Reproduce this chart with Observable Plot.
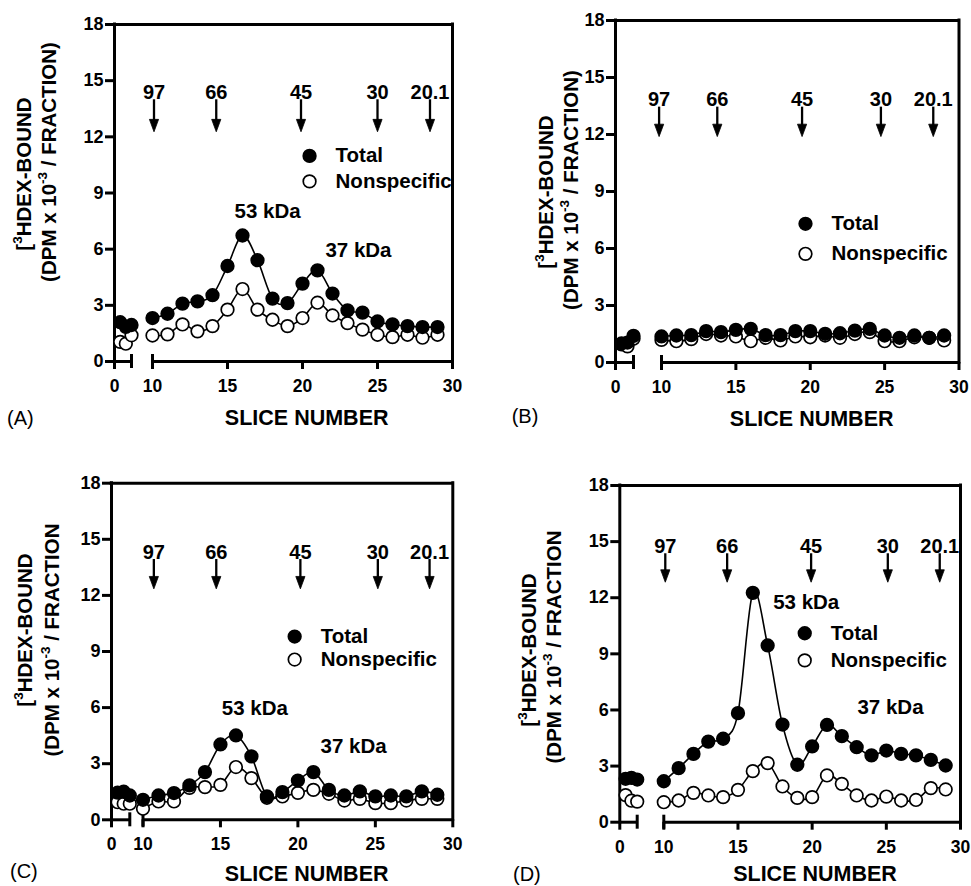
<!DOCTYPE html>
<html>
<head>
<meta charset="utf-8">
<script src="https://cdn.jsdelivr.net/npm/d3@7"></script>
<script src="https://cdn.jsdelivr.net/npm/@observablehq/plot@0.6"></script>
<style>
  body { margin: 0; background: #fff; }
  #fig { position: relative; width: 971px; height: 886px; overflow: hidden; background: #fff;
         font-family: "Liberation Sans", Arial, sans-serif; }
  .panel { position: absolute; }
</style>
</head>
<body>
<div id="fig"></div>
<script>
// ---------------- data ----------------
const leftSlices = [1, 2, 3];
const slices = [10, 11, 12, 13, 14, 15, 16, 17, 18, 19, 20, 21, 22, 23, 24, 25, 26, 27, 28, 29];
const xTicks = [0, 10, 15, 20, 25, 30];
const yTicks = [0, 3, 6, 9, 12, 15, 18];
const xBreakDomain = [0, 3, 10, 30];          // broken slice axis: 0–3 | 10–30
const xSegments = [[0, 3], [10, 30]];
const markerLabels = ["97", "66", "45", "30", "20.1"];
const legendNames = ["Total", "Nonspecific"];
const kdaLabels = ["53 kDa", "37 kDa"];

// Panel A
const totalALeft = [2.10, 1.85, 1.95];
const nonALeft   = [1.05, 0.95, 1.40];
const totalA = [2.32, 2.55, 3.09, 3.21, 3.54, 5.10, 6.73, 5.41, 3.36, 3.12, 4.16, 4.87, 3.63, 2.73, 2.61, 2.14, 1.98, 1.89, 1.84, 1.84];
const nonA   = [1.39, 1.45, 1.98, 1.61, 1.89, 2.77, 3.87, 2.77, 2.23, 1.89, 2.32, 3.14, 2.46, 2.05, 1.70, 1.43, 1.30, 1.43, 1.27, 1.43];
const markersA = [10.1, 14.25, 19.9, 25.0, 28.5];

// Panel B
const totalBLeft = [1.00, 1.05, 1.40];
const nonBLeft   = [0.95, 0.85, 1.25];
const totalB = [1.37, 1.42, 1.44, 1.65, 1.60, 1.72, 1.77, 1.44, 1.44, 1.65, 1.65, 1.51, 1.54, 1.68, 1.77, 1.42, 1.30, 1.42, 1.30, 1.42];
const nonB   = [1.19, 1.12, 1.23, 1.50, 1.42, 1.37, 1.12, 1.30, 1.16, 1.37, 1.33, 1.42, 1.30, 1.50, 1.60, 1.12, 1.12, 1.33, 1.30, 1.16];
const markersB = [9.4, 13.75, 19.45, 24.75, 28.27];

// Panel C
const totalCLeft = [1.45, 1.50, 1.30];
const nonCLeft   = [0.94, 0.86, 0.86];
const totalC = [1.07, 1.30, 1.43, 1.84, 2.55, 4.03, 4.51, 3.39, 1.25, 1.48, 2.10, 2.55, 1.60, 1.30, 1.52, 1.25, 1.30, 1.25, 1.52, 1.34];
const nonC   = [0.59, 0.98, 0.98, 1.71, 1.75, 1.87, 2.82, 2.23, 1.18, 1.25, 1.44, 1.60, 1.39, 1.03, 1.12, 0.89, 0.89, 1.03, 1.12, 1.12];
const markersC = [10.7, 14.73, 20.16, 25.16, 28.5];

// Panel D
const totalDLeft = [2.32, 2.37, 2.28];
const nonDLeft   = [1.45, 1.15, 1.10];
const totalD = [2.19, 2.89, 3.65, 4.31, 4.46, 5.83, 12.26, 9.45, 5.22, 3.07, 4.05, 5.20, 4.60, 4.01, 3.57, 3.83, 3.65, 3.57, 3.33, 3.03];
const nonD   = [1.07, 1.16, 1.57, 1.43, 1.34, 1.73, 2.73, 3.16, 1.91, 1.30, 1.34, 2.50, 2.05, 1.43, 1.16, 1.37, 1.16, 1.19, 1.82, 1.75];
const markersD = [10.1, 14.27, 19.93, 25.1, 28.6];

// ---------------- layout ----------------
const panels = [
  { letter: "(A)", left: 0, top: 0, width: 480, height: 440,
    xRange: [114, 131, 152, 452], yTop: 24, yBot: 361,
    totalLeft: totalALeft, nonLeft: nonALeft, total: totalA, non: nonA, markers: markersA,
    arrowY: [14.36, 13.98, 12.27], legendX: 20.47, legendY: [10.98, 9.62],
    kdaX: [17.67, 23.73], kdaY: [8.0, 5.93],
    yLabel2: "\u00a0/ FRACTION)",
    t1: [31, 174], t2: [56, 162], xTitle: [306.7, 417.5], letterPos: [7, 417.5] },
  { letter: "(B)", left: 480, top: 0, width: 491, height: 440,
    xRange: [135, 153, 181, 478.5], yTop: 20, yBot: 362,
    totalLeft: totalBLeft, nonLeft: nonBLeft, total: totalB, non: nonB, markers: markersB,
    arrowY: [13.83, 13.44, 11.89], legendX: 19.68, legendY: [7.3, 5.72],
    kdaX: [], kdaY: [],
    yLabel2: "\u00a0/ FRACTION)",
    t1: [73, 192], t2: [98, 190], xTitle: [331.7, 418], letterPos: [31.7, 416] },
  { letter: "(C)", left: 0, top: 440, width: 480, height: 446,
    xRange: [111, 129.3, 142.5, 452.3], yTop: 42.7, yBot: 379.3,
    totalLeft: totalCLeft, nonLeft: nonCLeft, total: totalC, non: nonC, markers: markersC,
    arrowY: [14.29, 13.92, 12.35], legendX: 19.79, legendY: [9.8, 8.57],
    kdaX: [17.22, 23.6], kdaY: [5.94, 3.94],
    yLabel2: "\u00a0/ FRACTION",
    t1: [32, 190], t2: [59, 200], xTitle: [306.7, 433], letterPos: [10, 430.5] },
  { letter: "(D)", left: 480, top: 440, width: 491, height: 446,
    xRange: [139.3, 156.7, 183.3, 480], yTop: 45, yBot: 381.7,
    totalLeft: totalDLeft, nonLeft: nonDLeft, total: totalD, non: nonD, markers: markersD,
    arrowY: [14.74, 14.35, 12.83], legendX: 19.5, legendY: [10.1, 8.65],
    kdaX: [19.6, 25.28], kdaY: [11.76, 6.15],
    yLabel2: "\u00a0/ FRACTION",
    t1: [56, 210], t2: [81, 207], xTitle: [335, 433], letterPos: [33, 434] }
];

const FONT = "'Liberation Sans', Arial, Helvetica, sans-serif";
const AXW = 3;

// narrow, filled, downward-pointing arrowhead (apex at the anchor point)
const arrowHead = {
  draw(context, size) {
    const h = Math.sqrt(size);
    const w = h * 0.37;
    context.moveTo(0, 0);
    context.lineTo(-w, -h);
    context.lineTo(w, -h);
    context.closePath();
  }
};

function rows(sl, vals, seg) {
  return sl.map((s, i) => ({ slice: s, value: vals[i], seg }));
}

const fig = document.getElementById("fig");

for (const p of panels) {
  const totalRows = [...rows(leftSlices, p.totalLeft, "L"), ...rows(slices, p.total, "R")];
  const nonRows = [...rows(leftSlices, p.nonLeft, "L"), ...rows(slices, p.non, "R")];
  const markers = markerLabels.map((label, i) => ({ label, slice: p.markers[i] }));

  const chart = Plot.plot({
    width: p.width,
    height: p.height,
    marginLeft: p.xRange[0],
    marginRight: p.width - p.xRange[3],
    marginTop: p.yTop,
    marginBottom: p.height - p.yBot,
    style: { fontFamily: FONT, fontWeight: "bold", fontSize: "17px", color: "black", background: "transparent", overflow: "visible", maxWidth: "none" },
    x: { type: "linear", domain: xBreakDomain, range: p.xRange, axis: null },
    y: { domain: [0, 18], range: [p.yBot, p.yTop], axis: null },
    marks: [
      // frame: top, left, right; broken bottom axis
      Plot.ruleY([18], { stroke: "black", strokeWidth: AXW, strokeLinecap: "square" }),
      Plot.ruleX([0], { stroke: "black", strokeWidth: AXW, strokeLinecap: "square" }),
      Plot.ruleX([30], { stroke: "black", strokeWidth: AXW, strokeLinecap: "square" }),
      Plot.ruleY(xSegments, { x1: d => d[0], x2: d => d[1], y: 0, stroke: "black", strokeWidth: AXW }),
      Plot.ruleX([xSegments[0][1], xSegments[1][0]], { y1: 0, y2: 0, insetTop: 7, insetBottom: 7, stroke: "black", strokeWidth: AXW }),
      Plot.axisX({ ticks: xTicks, tickSize: 8, tickPadding: 10, label: null, stroke: "black", strokeWidth: AXW, fill: "black", fontSize: 17.5, fontWeight: "bold" }),
      Plot.axisY({ ticks: yTicks, tickSize: 9, tickPadding: 2, label: null, stroke: "black", strokeWidth: AXW, fill: "black", fontSize: 18, fontWeight: "bold" }),
      // series
      Plot.line(nonRows, { x: "slice", y: "value", z: "seg", curve: "cardinal", stroke: "black", strokeWidth: 1.6 }),
      Plot.line(totalRows, { x: "slice", y: "value", z: "seg", curve: "cardinal", stroke: "black", strokeWidth: 1.6 }),
      Plot.dot(nonRows, { x: "slice", y: "value", r: 6.3, fill: "white", stroke: "black", strokeWidth: 1.7 }),
      Plot.dot(totalRows, { x: "slice", y: "value", r: 6.3, fill: "black", stroke: "black", strokeWidth: 1.7 }),
      // molecular weight markers
      Plot.text(markers, { x: "slice", y: p.arrowY[0], text: "label", fontSize: 20, fontWeight: "bold", fill: "black" }),
      Plot.ruleX(markers, { x: "slice", y1: p.arrowY[1], y2: p.arrowY[2], stroke: "black", strokeWidth: 2.3, insetBottom: 4 }),
      Plot.dot(markers, { x: "slice", y: p.arrowY[2], symbol: arrowHead, r: 7, fill: "black", stroke: "black", strokeWidth: 0.8 }),
      // legend (inside the frame, as in the original)
      Plot.dot([legendNames[0]], { x: p.legendX, y: p.legendY[0], r: 6.3, fill: "black", stroke: "black", strokeWidth: 1.7 }),
      Plot.dot([legendNames[1]], { x: p.legendX, y: p.legendY[1], r: 6.3, fill: "white", stroke: "black", strokeWidth: 1.7 }),
      Plot.text(legendNames, { x: p.legendX, y: (d, i) => p.legendY[i], text: d => d, dx: 26, textAnchor: "start", fontSize: 20.5, fontWeight: "bold", fill: "black" }),
      // peak annotations
      Plot.text(kdaLabels.slice(0, p.kdaX.length), { x: (d, i) => p.kdaX[i], y: (d, i) => p.kdaY[i], text: d => d, fontSize: 20.5, fontWeight: "bold", fill: "black" })
    ]
  });

  // titles with superscripts
  const svg = d3.select(chart);
  const g = svg.append("g").attr("fill", "black").attr("font-family", FONT).attr("font-weight", "bold").attr("font-size", 20.5);
  const l1 = g.append("text").attr("text-anchor", "middle")
    .attr("transform", `translate(${p.t1[0]},${p.t1[1]}) rotate(-90)`);
  l1.append("tspan").text("[");
  l1.append("tspan").attr("font-size", 13.5).attr("dy", -9).text("3");
  l1.append("tspan").attr("dy", 9).text("HDEX-BOUND");
  const l2 = g.append("text").attr("text-anchor", "middle")
    .attr("transform", `translate(${p.t2[0]},${p.t2[1]}) rotate(-90)`);
  l2.append("tspan").text("(DPM x 10");
  l2.append("tspan").attr("font-size", 13.5).attr("dy", -9).text("-3");
  l2.append("tspan").attr("dy", 9).text(p.yLabel2);
  g.append("text").attr("text-anchor", "middle").attr("dy", "0.35em")
    .attr("x", p.xTitle[0]).attr("y", p.xTitle[1]).attr("font-size", 21.5).text("SLICE NUMBER");
  g.append("text").attr("text-anchor", "start").attr("dy", "0.35em").attr("font-weight", "normal")
    .attr("x", p.letterPos[0]).attr("y", p.letterPos[1]).attr("font-size", 20).text(p.letter);

  const div = document.createElement("div");
  div.className = "panel";
  div.style.left = p.left + "px";
  div.style.top = p.top + "px";
  div.style.width = p.width + "px";
  div.style.height = p.height + "px";
  div.appendChild(chart);
  fig.appendChild(div);
}
</script>
</body>
</html>
